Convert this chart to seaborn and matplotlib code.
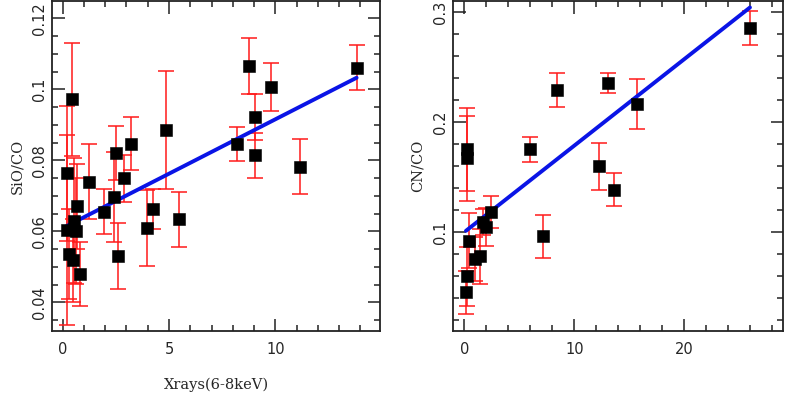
import numpy as np
import pandas as pd
import matplotlib
matplotlib.use("Agg")
import matplotlib.pyplot as plt
import seaborn as sns
from matplotlib.ticker import MultipleLocator, FormatStrFormatter

# ---- data: left panel (SiO/CO vs X-rays) ----
x_sio = [0.19, 0.22, 0.31, 0.42, 0.50, 0.53, 0.63, 0.66, 0.81, 1.25, 1.96, 2.43, 2.49, 2.61,
         2.90, 3.20, 3.98, 4.23, 4.86, 5.48, 8.18, 8.74, 9.04, 9.04, 9.79, 11.16, 13.82]
y_sio = [0.0604, 0.0763, 0.0536, 0.0972, 0.0519, 0.0630, 0.0601, 0.0671, 0.0479, 0.0740, 0.0655,
         0.0697, 0.0821, 0.0530, 0.0749, 0.0847, 0.0608, 0.0662, 0.0885, 0.0634, 0.0845, 0.1066,
         0.0923, 0.0814, 0.1007, 0.0782, 0.1061]
e_sio = [0.0267, 0.0190, 0.0126, 0.0160, 0.0117, 0.0176, 0.0150, 0.0120, 0.0090, 0.0106, 0.0063,
         0.0126, 0.0076, 0.0092, 0.0066, 0.0075, 0.0107, 0.0056, 0.0167, 0.0078, 0.0048, 0.0080,
         0.0065, 0.0063, 0.0068, 0.0078, 0.0064]
fit_sio = [0.003066, 0.0609]   # slope, intercept

# ---- data: right panel (CN/CO vs X-rays) ----
x_cn = [0.15, 0.22, 0.22, 0.25, 0.43, 0.97, 1.43, 1.67, 1.97, 2.40, 5.97, 7.13, 8.40, 12.2,
        13.09, 13.6, 15.73, 25.97]
y_cn = [0.0455, 0.0600, 0.1670, 0.1752, 0.0921, 0.0761, 0.0782, 0.1094, 0.1048, 0.1185, 0.1752,
        0.0964, 0.2290, 0.1600, 0.2352, 0.1388, 0.2164, 0.2857]
e_cn = [0.0195, 0.0270, 0.0387, 0.0380, 0.0250, 0.0200, 0.0250, 0.0120, 0.0170, 0.0145, 0.0116,
        0.0197, 0.0155, 0.0212, 0.0091, 0.0146, 0.0227, 0.0156]
fit_cn = [0.007856, 0.1001]

xlabel = "Xrays(6-8keV)"
ylabels = ["SiO/CO", "CN/CO"]

sns.set_style("ticks")
plt.rcParams['font.family'] = ['DejaVu Sans']

fig = plt.figure(figsize=(7.85, 3.94), dpi=100)
ax1 = fig.add_axes([52/785, 1-331/394, 328/785, 330/394])
ax2 = fig.add_axes([453.3/785, 1-331/394, 330/785, 330/394])

def panel(ax, xs, ys, es, fit, xlim, ylim, xmaj, xmin, ymaj, ymin, ylab, yfmt):
    df = pd.DataFrame({"x": xs, "y": ys, "e": es})
    ax.errorbar(df["x"], df["y"], yerr=df["e"], fmt="none", ecolor="#ff1a1a",
                elinewidth=1.1, capsize=6, capthick=1.1, zorder=2)
    xl = np.array([min(xs), max(xs)])
    line = pd.DataFrame({"x": xl, "y": fit[0]*xl + fit[1]})
    sns.lineplot(data=line, x="x", y="y", ax=ax, color="#0a14e6", lw=2.8, zorder=3)
    sns.scatterplot(data=df, x="x", y="y", ax=ax, marker="s", s=72, color="black",
                    edgecolor="black", linewidth=0.4, zorder=4)
    ax.set_xlim(*xlim)
    ax.set_ylim(*ylim)
    ax.xaxis.set_major_locator(MultipleLocator(xmaj))
    ax.xaxis.set_minor_locator(MultipleLocator(xmin))
    ax.yaxis.set_major_locator(MultipleLocator(ymaj))
    ax.yaxis.set_minor_locator(MultipleLocator(ymin))
    ax.yaxis.set_major_formatter(FormatStrFormatter(yfmt))
    ax.tick_params(which="both", direction="in", top=True, right=True, color="#222222",
                   labelsize=10.5, width=1.1)
    ax.tick_params(which="major", length=9)
    ax.tick_params(which="minor", length=4.5)
    ax.tick_params(axis="x", pad=8)
    for lab in ax.get_yticklabels():
        lab.set_rotation(90)
        lab.set_va("center")
    for sp in ax.spines.values():
        sp.set_color("#222222")
        sp.set_linewidth(1.3)
    ax.set_xlabel("")
    ax.set_ylabel(ylab, family="DejaVu Serif", fontsize=10.5, labelpad=6)

panel(ax1, x_sio, y_sio, e_sio, fit_sio, (-0.5, 14.92), (0.0319, 0.1249),
      5, 1, 0.02, 0.005, ylabels[0], "%g")
panel(ax2, x_cn, y_cn, e_cn, fit_cn, (-1, 29), (0.0103, 0.31),
      10, 2, 0.1, 0.02, ylabels[1], "%g")
ax1.set_xlabel(xlabel, family="DejaVu Serif", fontsize=10.5, labelpad=15)

fig.savefig("out.png", dpi=100)
